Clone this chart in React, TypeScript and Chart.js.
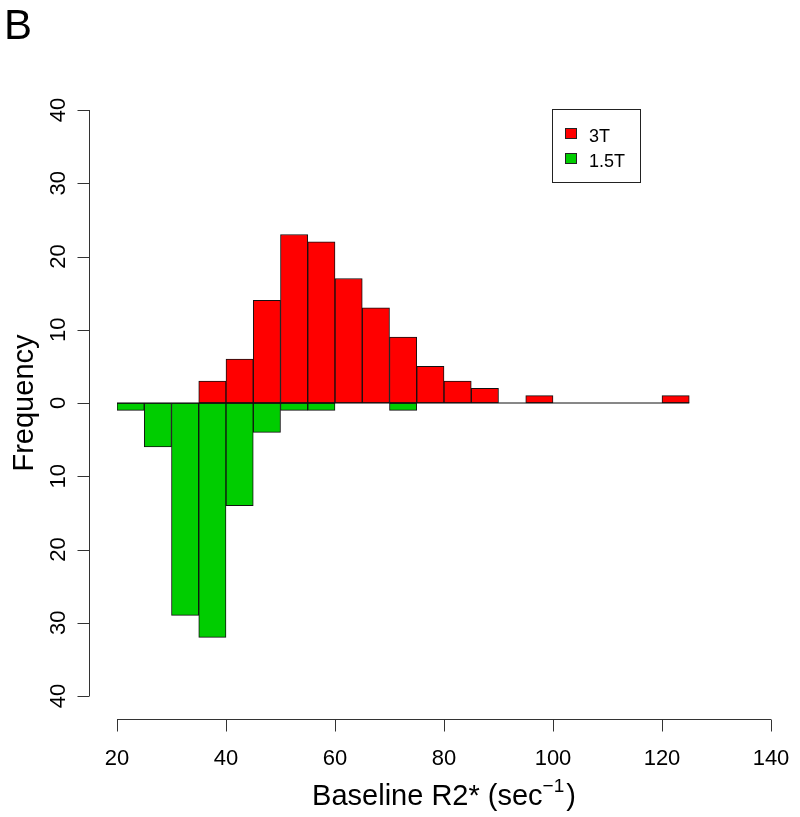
import React, { useEffect, useRef } from "react";
import { Chart, registerables } from "chart.js";

Chart.register(...registerables);

const binStart = [20, 25, 30, 35, 40, 45, 50, 55, 60, 65, 70, 75, 80, 85, 90, 95, 100, 105, 110, 115, 120];
const BIN_WIDTH = 5;
const counts3T = [0, 0, 0, 3, 6, 14, 23, 22, 17, 13, 9, 5, 3, 2, 0, 1, 0, 0, 0, 0, 1];
const counts15T = [1, 6, 29, 32, 14, 4, 1, 1, 0, 0, 1, 0, 0, 0, 0, 0, 0, 0, 0, 0, 0];
const seriesLabels = ["3T", "1.5T"];
const seriesColors = ["#FF0000", "#00CD00"];
const xTicks = [20, 40, 60, 80, 100, 120, 140];
const yTicks = [-40, -30, -20, -10, 0, 10, 20, 30, 40];
const panelLabel = "B";
const xTitle = "Baseline R2* (sec";
const xTitleSup = "\u22121";
const yTitle = "Frequency";

const FONT = '"Liberation Sans", Arial, Helvetica, sans-serif';

const axesPlugin = {
  id: "rAxes",
  afterDraw(chart: any) {
    const ctx = chart.ctx;
    const xs = chart.scales.x;
    const ys = chart.scales.y;
    ctx.save();
    ctx.strokeStyle = "#333";
    ctx.lineWidth = 1;
    ctx.fillStyle = "#000";

    // x axis
    const axY = 719.5;
    const x0 = xs.getPixelForValue(xTicks[0]);
    const x1 = xs.getPixelForValue(xTicks[xTicks.length - 1]);
    ctx.beginPath();
    ctx.moveTo(x0, axY);
    ctx.lineTo(x1, axY);
    xTicks.forEach((t) => {
      const px = Math.round(xs.getPixelForValue(t)) + 0.5;
      ctx.moveTo(px, axY);
      ctx.lineTo(px, axY + 12);
    });
    ctx.stroke();
    ctx.font = `22px ${FONT}`;
    ctx.textAlign = "center";
    ctx.textBaseline = "alphabetic";
    xTicks.forEach((t) => {
      ctx.fillText(String(t), xs.getPixelForValue(t), 765);
    });

    // x title with superscript
    ctx.font = `29px ${FONT}`;
    const wMain = ctx.measureText(xTitle).width;
    ctx.font = `19px ${FONT}`;
    const wSup = ctx.measureText(xTitleSup).width;
    ctx.font = `29px ${FONT}`;
    const wClose = ctx.measureText(")").width;
    const total = wMain + wSup + wClose + 2;
    const cx = (x0 + x1) / 2;
    let sx = cx - total / 2;
    ctx.textAlign = "left";
    ctx.fillText(xTitle, sx, 805);
    sx += wMain;
    ctx.font = `19px ${FONT}`;
    ctx.fillText(xTitleSup, sx, 792);
    sx += wSup + 2;
    ctx.font = `29px ${FONT}`;
    ctx.fillText(")", sx, 805);

    // y axis
    const axX = 89.5;
    const yTop = ys.getPixelForValue(yTicks[yTicks.length - 1]);
    const yBot = ys.getPixelForValue(yTicks[0]);
    ctx.beginPath();
    ctx.moveTo(axX, yTop);
    ctx.lineTo(axX, yBot);
    yTicks.forEach((t) => {
      const py = Math.round(ys.getPixelForValue(t)) + 0.5;
      ctx.moveTo(axX, py);
      ctx.lineTo(axX - 12, py);
    });
    ctx.stroke();
    ctx.font = `22px ${FONT}`;
    ctx.textAlign = "center";
    ctx.textBaseline = "alphabetic";
    yTicks.forEach((t) => {
      const py = ys.getPixelForValue(t);
      ctx.save();
      ctx.translate(65, py);
      ctx.rotate(-Math.PI / 2);
      ctx.fillText(String(Math.abs(t)), 0, 0);
      ctx.restore();
    });

    // y title
    ctx.save();
    ctx.font = `29px ${FONT}`;
    ctx.translate(33, (yTop + yBot) / 2);
    ctx.rotate(-Math.PI / 2);
    ctx.fillText(yTitle, 0, 0);
    ctx.restore();

    // legend
    ctx.strokeStyle = "#222";
    ctx.strokeRect(552.5, 109.5, 88, 73);
    ctx.font = `18px ${FONT}`;
    ctx.textAlign = "left";
    seriesLabels.forEach((lab, i) => {
      const top = 128 + i * 25;
      ctx.fillStyle = seriesColors[i];
      ctx.fillRect(565, top, 12, 11);
      ctx.strokeRect(565.5, top + 0.5, 11, 10);
      ctx.fillStyle = "#000";
      ctx.fillText(lab, 589, top + 14);
    });

    // panel label
    ctx.font = `42px ${FONT}`;
    ctx.fillText(panelLabel, 4, 39);

    ctx.restore();
  },
};

export default function App() {
  const ref = useRef<HTMLCanvasElement | null>(null);

  useEffect(() => {
    if (!ref.current) return;
    const centers = binStart.map((s) => s + BIN_WIDTH / 2);
    const baselineStart = binStart[0];
    const baselineEnd = binStart[binStart.length - 1] + BIN_WIDTH;
    const chart = new Chart(ref.current, {
      type: "bar",
      data: {
        datasets: [
          {
            label: seriesLabels[0],
            data: centers.map((x, i) => ({ x, y: counts3T[i] })),
            backgroundColor: seriesColors[0],
            borderColor: "#111",
            borderWidth: 1,
            borderSkipped: false,
            grouped: false,
            barPercentage: 1,
            categoryPercentage: 1,
            order: 2,
          } as any,
          {
            label: seriesLabels[1],
            data: centers.map((x, i) => ({ x, y: -counts15T[i] })),
            backgroundColor: seriesColors[1],
            borderColor: "#111",
            borderWidth: 1,
            borderSkipped: false,
            grouped: false,
            barPercentage: 1,
            categoryPercentage: 1,
            order: 2,
          } as any,
          {
            type: "line",
            label: "baseline",
            data: [
              { x: baselineStart, y: 0 },
              { x: baselineEnd, y: 0 },
            ],
            borderColor: "#111",
            borderWidth: 1,
            pointRadius: 0,
            fill: false,
            order: 1,
          } as any,
        ],
      },
      options: {
        responsive: false,
        animation: false,
        layout: { padding: { left: 117, right: 29, top: 110, bottom: 121 } },
        scales: {
          x: {
            type: "linear",
            offset: false,
            min: xTicks[0],
            max: xTicks[xTicks.length - 1],
            display: false,
            grid: { offset: false },
          },
          y: { type: "linear", min: yTicks[0], max: yTicks[yTicks.length - 1], display: false },
        },
        plugins: {
          legend: { display: false },
          tooltip: { enabled: false },
        },
      },
      plugins: [axesPlugin],
    });
    return () => chart.destroy();
  }, []);

  return (
    <div style={{ position: "fixed", left: 0, top: 0, width: 800, height: 817, background: "#fff" }}>
      <canvas ref={ref} width={800} height={817} />
    </div>
  );
}
